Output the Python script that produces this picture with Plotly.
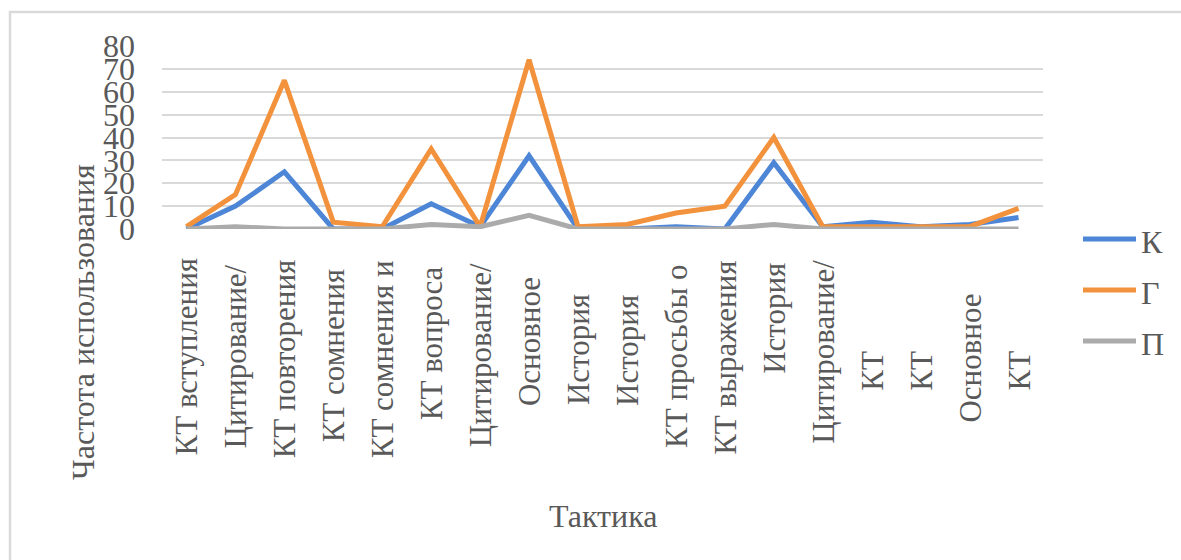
import plotly.graph_objects as go

# ---- data -------------------------------------------------------------
categories = [
    "КТ вступления", "Цитирование/", "КТ повторения", "КТ сомнения",
    "КТ сомнения и", "КТ вопроса", "Цитирование/ ", "Основное",
    "История", "История ", "КТ просьбы о", "КТ выражения",
    "История  ", "Цитирование/  ", "КТ", "КТ ", "Основное ", "КТ  ",
]
series_names = ["К", "Г", "П"]
values_k = [0, 10, 25, 0, 0, 11, 1, 32, 0, 0, 1, 0, 29, 1, 3, 1, 2, 5]
values_g = [1, 15, 65, 3, 1, 35, 1, 74, 1, 2, 7, 10, 40, 1, 1, 1, 1, 9]
values_p = [0, 1, 0, 0, 0, 2, 1, 6, 0, 0, 0, 0, 2, 0, 0, 0, 0, 0]
y_ticks = [0, 10, 20, 30, 40, 50, 60, 70, 80]

# ---- styling ----------------------------------------------------------
W, H = 1181, 560
PLOT_L, PLOT_R, PLOT_T, PLOT_B = 162, 1043, 46, 229
FONT = "'Times New Roman', 'Liberation Serif', serif"
TEXT = "#595959"
GRID = "#d9d9d9"
colors = ["#4d86d6", "#f3923d", "#ababab"]
# vertical centre (px) of each rotated category label
label_centre_px = [357, 356, 359, 356, 359, 343, 355, 342, 350, 350,
                   356, 358, 318, 352, 371, 371, 358, 371]


def px_x(x):
    return (x - PLOT_L) / (PLOT_R - PLOT_L)


def px_y(y):
    return (PLOT_B - y) / (PLOT_B - PLOT_T)


fig = go.Figure()
for name, vals, col in zip(series_names, [values_k, values_g, values_p], colors):
    fig.add_trace(go.Scatter(
        x=categories, y=vals, name=name, mode="lines",
        line=dict(color=col, width=5),
        showlegend=False,
    ))

annotations = []
# category labels, rotated and centred in the band below the plot
for cat, cy in zip(categories, label_centre_px):
    annotations.append(dict(
        x=cat, xref="x", y=px_y(cy), yref="paper",
        text=cat.strip(), textangle=-90, showarrow=False,
        xanchor="center", yanchor="middle",
        font=dict(family=FONT, size=31, color=TEXT),
    ))

# axis titles
annotations.append(dict(
    x=px_x(603), y=px_y(516), xref="paper", yref="paper",
    text="Тактика", showarrow=False, xanchor="center", yanchor="middle",
    font=dict(family=FONT, size=32, color=TEXT),
))
annotations.append(dict(
    x=px_x(83), y=px_y(322), xref="paper", yref="paper",
    text="Частота использования", textangle=-90, showarrow=False,
    xanchor="center", yanchor="middle",
    font=dict(family=FONT, size=32, color=TEXT),
))

# legend on the right
shapes = []
legend_y = [239, 290, 341]
for name, col, ly in zip(series_names, colors, legend_y):
    shapes.append(dict(
        type="line", xref="paper", yref="paper",
        x0=px_x(1083), x1=px_x(1136), y0=px_y(ly), y1=px_y(ly),
        line=dict(color=col, width=5),
    ))
    annotations.append(dict(
        x=px_x(1139), y=px_y(ly + 3), xref="paper", yref="paper",
        text=name, showarrow=False, xanchor="left", yanchor="middle",
        font=dict(family=FONT, size=32, color=TEXT),
    ))

# chart frame
shapes.append(dict(
    type="rect", xref="paper", yref="paper",
    x0=px_x(10), x1=px_x(1195), y0=px_y(12), y1=px_y(580),
    line=dict(color=GRID, width=2.5), fillcolor="rgba(0,0,0,0)", layer="below",
))

fig.update_layout(
    width=W, height=H,
    margin=dict(l=PLOT_L, r=W - PLOT_R, t=PLOT_T, b=H - PLOT_B),
    paper_bgcolor="white", plot_bgcolor="white",
    font=dict(family=FONT, color=TEXT),
    annotations=annotations, shapes=shapes,
    showlegend=False,
)
fig.update_xaxes(
    type="category", range=[-0.5, len(categories) - 0.5],
    showticklabels=False, showgrid=False, zeroline=False, showline=False,
)
fig.update_yaxes(
    range=[0, 80], tickvals=y_ticks, ticktext=[str(v) for v in y_ticks],
    showgrid=True, gridcolor=GRID, gridwidth=2,
    zeroline=False, showline=False, ticks="",
    ticklabelstandoff=26,
    tickfont=dict(family=FONT, size=32, color=TEXT),
)

fig.write_html("out.html")
